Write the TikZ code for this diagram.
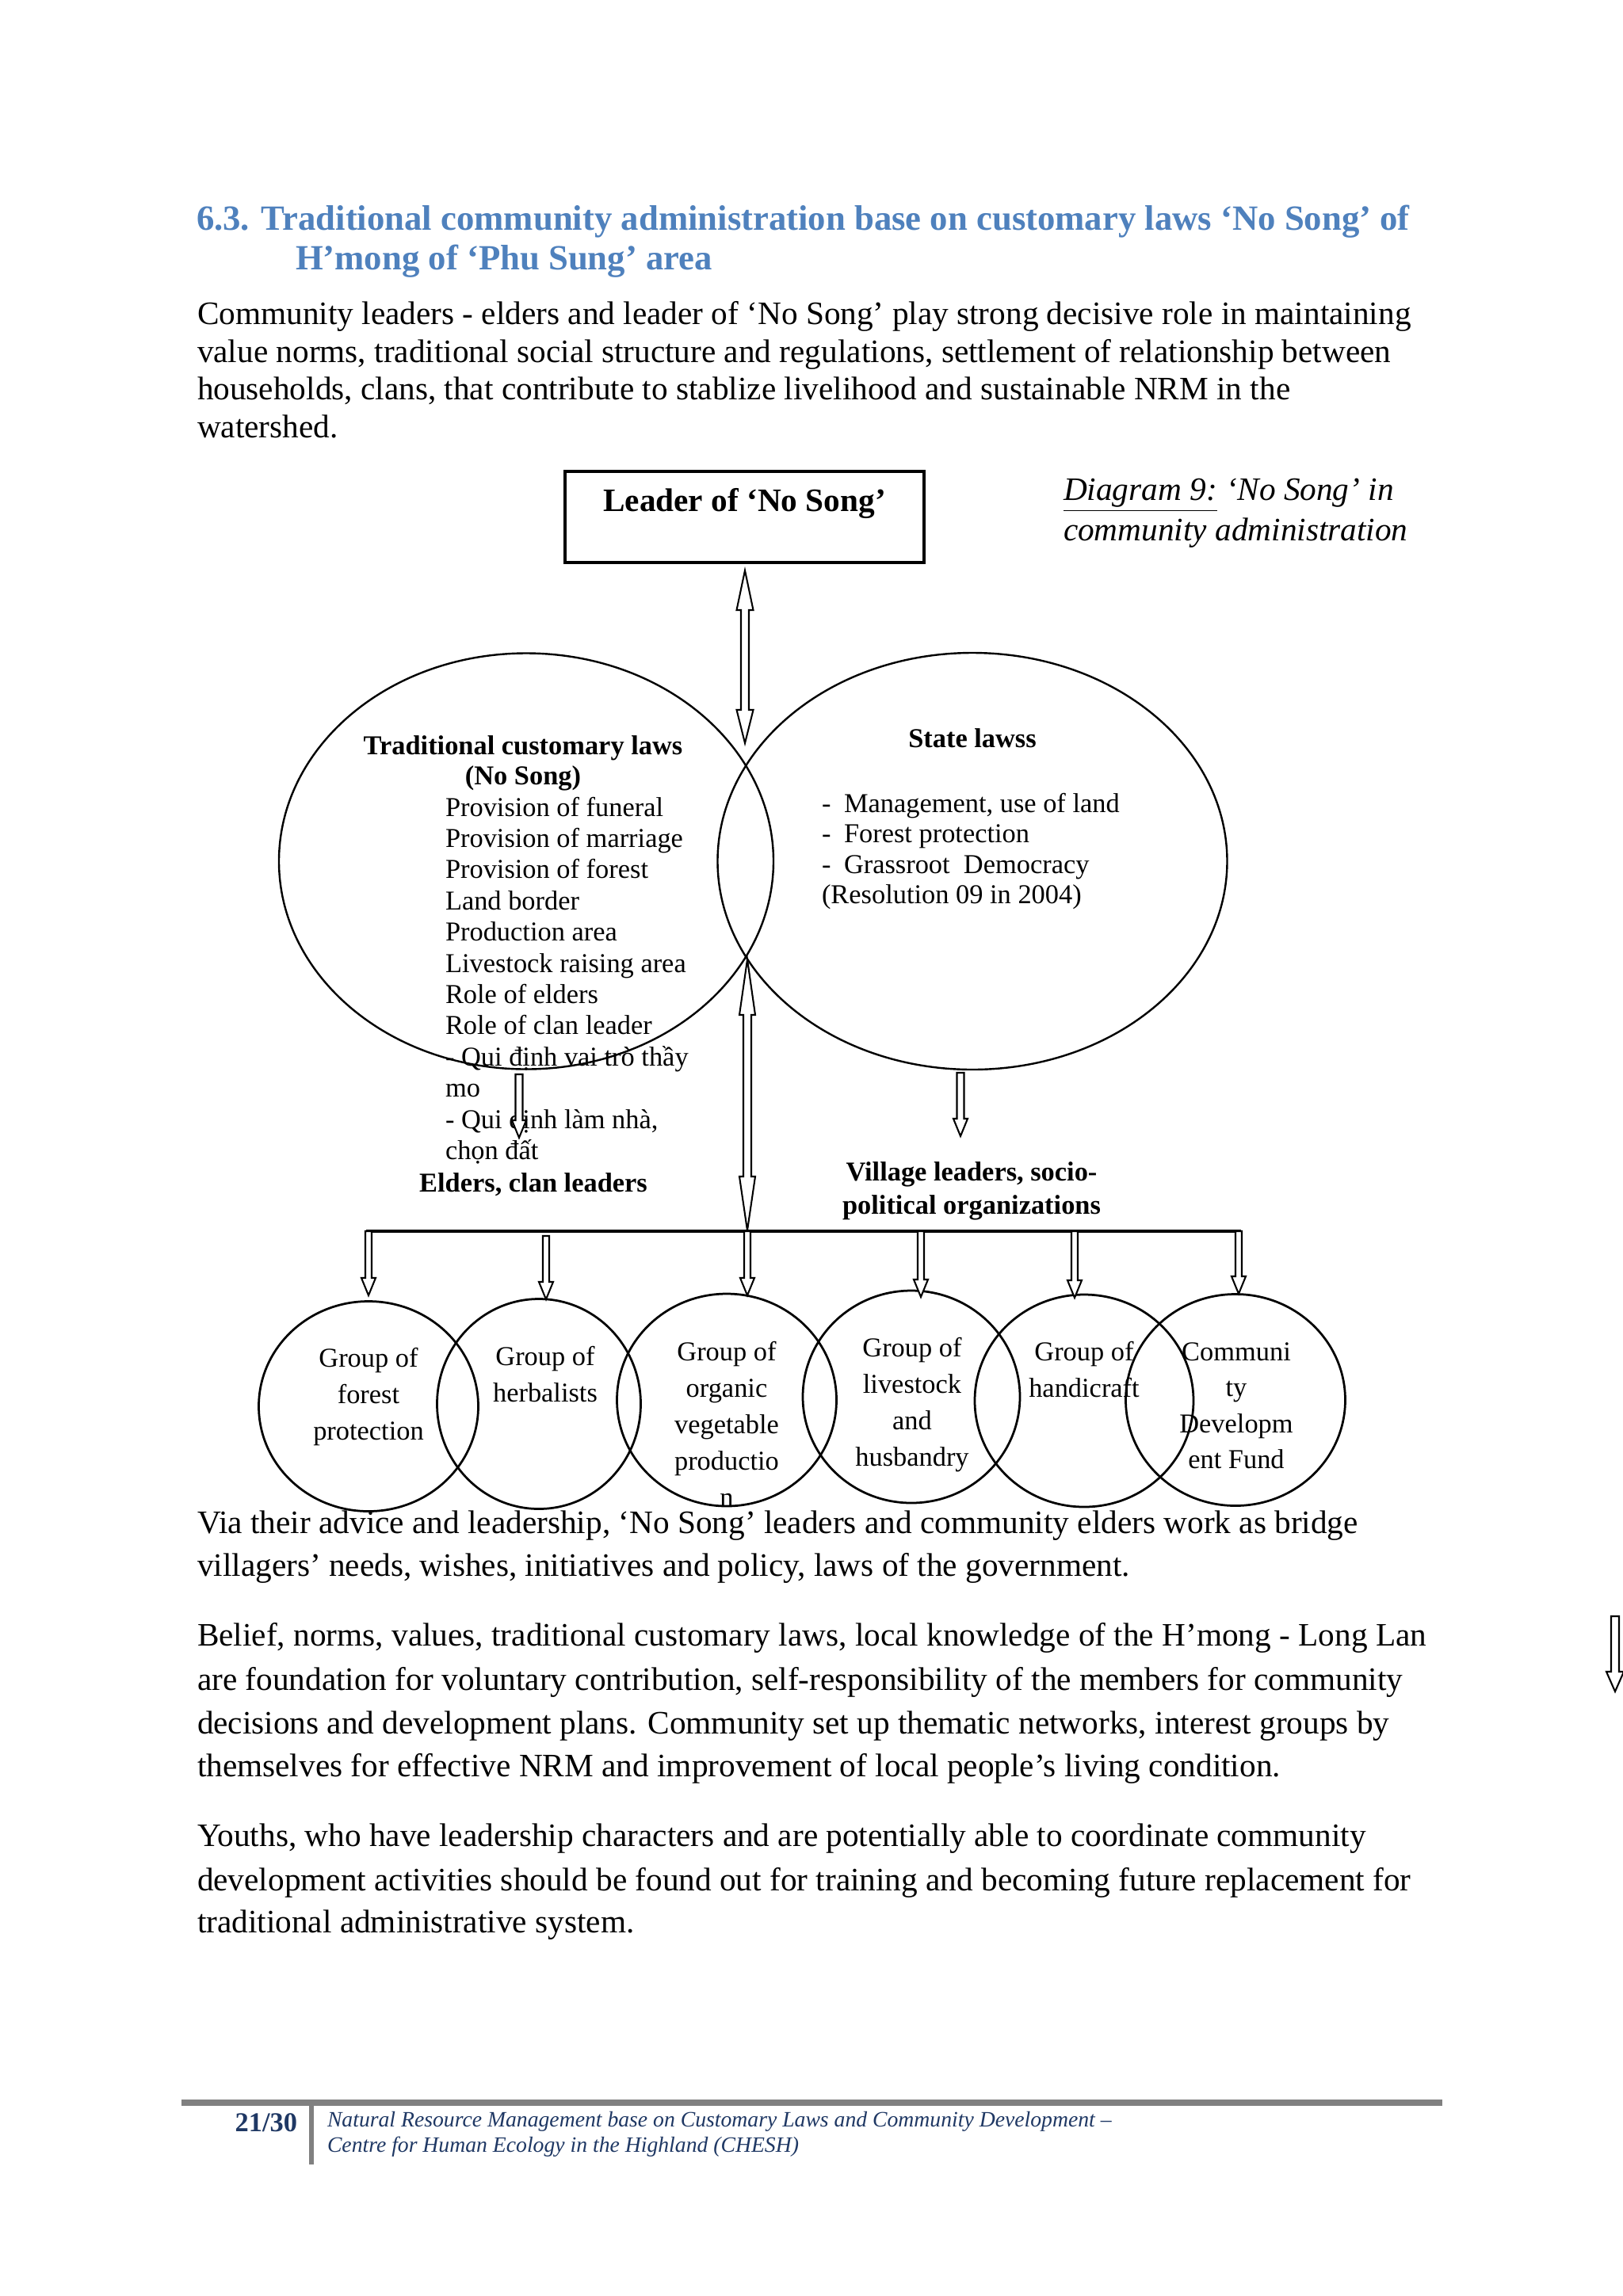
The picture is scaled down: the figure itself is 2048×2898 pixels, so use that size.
\documentclass[tikz,border=0pt]{standalone}
\usepackage{fontspec}
\setmainfont{Liberation Serif}
\usetikzlibrary{calc,shapes.geometric}
\definecolor{titleblue}{RGB}{79,129,189}
\definecolor{footblue}{RGB}{31,56,100}
\definecolor{footgray}{RGB}{128,128,128}
\newcommand\uu{0.2907pt}
% single-headed downward block arrow: top coord, tip coord, head length, shaft half width, head half width (px)
\newcommand\dnarrow[5]{%
 \draw[blockarrow] let \p1=(#1), \p2=(#2) in
  ({\x1-#4*\uu},\y1) -- ({\x1-#4*\uu},{\y2+#3*\uu}) -- ({\x1-#5*\uu},{\y2+#3*\uu}) -- (\x1,\y2)
  -- ({\x1+#5*\uu},{\y2+#3*\uu}) -- ({\x1+#4*\uu},{\y2+#3*\uu}) -- ({\x1+#4*\uu},\y1) -- cycle;}
% double-headed vertical block arrow: top tip, bottom tip, top head len, bottom head len, shaft half, head half
\newcommand\dblarrow[6]{%
 \draw[blockarrow] let \p1=(#1), \p2=(#2) in
  (\x1,\y1) -- ({\x1+#6*\uu},{\y1-#3*\uu}) -- ({\x1+#5*\uu},{\y1-#3*\uu}) -- ({\x1+#5*\uu},{\y2+#4*\uu})
  -- ({\x1+#6*\uu},{\y2+#4*\uu}) -- (\x1,\y2) -- ({\x1-#6*\uu},{\y2+#4*\uu}) -- ({\x1-#5*\uu},{\y2+#4*\uu})
  -- ({\x1-#5*\uu},{\y1-#3*\uu}) -- ({\x1-#6*\uu},{\y1-#3*\uu}) -- cycle;}
\begin{document}
\begin{tikzpicture}[x=0.2907pt,y=-0.2907pt,
  every node/.style={inner sep=0pt, outer sep=0pt},
  ln/.style={anchor=base west},
  cn/.style={anchor=base},
  rn/.style={anchor=base east},
  body/.style={font=\fontsize{12}{14}\selectfont},
  ttl/.style={font=\fontsize{13}{15}\selectfont\bfseries, text=titleblue},
  capt/.style={font=\fontsize{12}{14}\selectfont\itshape},
  bold12/.style={font=\fontsize{12}{14}\selectfont\bfseries},
  bold10/.style={font=\fontsize{10}{12}\selectfont\bfseries},
  f10/.style={font=\fontsize{10}{12}\selectfont},
  bigell/.style={draw, ellipse, line width=0.7pt},
  smallell/.style={draw, ellipse, line width=0.8pt},
  blockarrow/.style={draw, fill=white, line width=0.6pt, line join=miter},
  footnum/.style={font=\fontsize{10}{12}\selectfont\bfseries, text=footblue},
  foottxt/.style={font=\fontsize{8.05}{9}\selectfont\itshape, text=footblue}
]
\useasboundingbox[fill=white] (0,0) rectangle (2048,2898);

% ---- title ----
\node[ln, ttl] (t1) at (248,290) {6.3. Traditional community administration base on customary laws ‘No Song’ of};
\node[ln, ttl] (t2) at (373,340) {H’mong of ‘Phu Sung’ area};

% ---- paragraph 1 ----
\node[ln, body] (p1a) at (249,409) {Community leaders - elders and leader of ‘No Song’ play strong decisive role in maintaining};
\node[ln, body] (p1b) at (249,457) {value norms, traditional social structure and regulations, settlement of relationship between};
\node[ln, body] (p1c) at (249,504) {households, clans, that contribute to stablize livelihood and sustainable NRM in the};
\node[ln, body] (p1d) at (249,552) {watershed.};

% ---- leader box and caption ----
\node[draw, line width=1pt, minimum width=453*\uu, minimum height=115*\uu] (leader) at (939.5,652.5) {};
\node[cn, bold12] (leadertxt) at (939.5,645) {Leader of ‘No Song’};
\node[ln, capt] (cap1) at (1342,631) {\underline{Diagram 9:}\hspace{3.5pt}‘No Song’ in};
\node[ln, capt] (cap2) at (1342,682) {community administration};

% ---- two big ellipses ----
\node[bigell, minimum width=624*\uu, minimum height=525*\uu] (trad) at (664,1087) {};
\node[bigell, minimum width=643*\uu, minimum height=526*\uu] (state) at (1227,1087) {};

% left ellipse text
\node[cn, bold10] (tradh1) at (660,952) {Traditional customary laws};
\node[cn, bold10] (tradh2) at (660,990) {(No Song)};
\foreach \t [count=\i from 0] in {Provision of funeral, Provision of marriage, Provision of forest,
  Land border, Production area, Livestock raising area, Role of elders, Role of clan leader,
  - Qui định vai trò thầy, mo, {- Qui định làm nhà,}, chọn đất}
  \node[ln, f10, name=tl\i] at (562,{1030+39.4*\i}) {\t};
\node[cn, bold10] (elders) at (673,1504) {Elders, clan leaders};

% right ellipse text
\foreach \t [count=\i from 0] in {{Management, use of land}, Forest protection, Grassroot\ \ Democracy}
  {\node[ln, f10, name=sd\i] at (1037,{1025+38.5*\i}) {-};
   \node[ln, f10, name=sl\i] at (1065,{1025+38.5*\i}) {\t};}
\node[cn, bold10] (stateh) at (1227,943) {State lawss};
\node[ln, f10] (sres) at (1037,1140) {(Resolution 09 in 2004)};

\node[cn, bold10] (vill1) at (1226,1490) {Village leaders, socio-};
\node[cn, bold10] (vill2) at (1226,1532) {political organizations};

% ---- six group ellipses ----
\node[smallell, minimum width=277*\uu, minimum height=265*\uu] (g1) at (465,1775) {};
\node[smallell, minimum width=257*\uu, minimum height=265*\uu] (g2) at (680,1772) {};
\node[smallell, minimum width=277*\uu, minimum height=268*\uu] (g3) at (917,1767) {};
\node[smallell, minimum width=274*\uu, minimum height=268*\uu] (g4) at (1150,1763) {};
\node[smallell, minimum width=276*\uu, minimum height=268*\uu] (g5) at (1368,1768) {};
\node[smallell, minimum width=277*\uu, minimum height=267*\uu] (g6) at (1559,1767) {};

\foreach \t [count=\i from 0] in {Group of, forest, protection}
  \node[cn, f10, name=g1t\i] at (465,{1725+46*\i}) {\t};
\foreach \t [count=\i from 0] in {Group of, herbalists}
  \node[cn, f10, name=g2t\i] at (688,{1723+46*\i}) {\t};
\foreach \t [count=\i from 0] in {Group of, organic, vegetable, productio, n}
  \node[cn, f10, name=g3t\i] at (917,{1717+46*\i}) {\t};
\foreach \t [count=\i from 0] in {Group of, livestock, and, husbandry}
  \node[cn, f10, name=g4t\i] at (1151,{1712+46*\i}) {\t};
\foreach \t [count=\i from 0] in {Group of, handicraft}
  \node[cn, f10, name=g5t\i] at (1368,{1717+46*\i}) {\t};
\foreach \t [count=\i from 0] in {Communi, ty, Developm, ent Fund}
  \node[cn, f10, name=g6t\i] at (1560,{1717+45.5*\i}) {\t};

% ---- connectors ----
\coordinate (a1t) at (940,720);
\coordinate (a1b) at (940,938);
\dblarrow{a1t}{a1b}{50}{42}{5}{10.5}
\coordinate (a2t) at (943,1211);
\coordinate (a2b) at (943,1553);
\dblarrow{a2t}{a2b}{70}{68}{5}{10}
\coordinate (a3t) at (655,1356);
\coordinate (a3b) at (655,1436);
\dnarrow{a3t}{a3b}{22}{4.5}{9}
\coordinate (a4t) at (1212,1354);
\coordinate (a4b) at (1212,1434);
\dnarrow{a4t}{a4b}{22}{4.5}{9}

\coordinate (barL) at (462,1554);
\coordinate (barR) at (1566,1554);
\draw[line width=1pt] (barL) -- (barR);
\foreach \x/\ya/\yb [count=\i] in {465/1554/1635, 689/1560/1640, 943/1554/1635, 1162/1554/1637, 1356/1554/1638, 1563/1554/1633}
 {\coordinate (b\i t) at (\x,\ya);
  \coordinate (b\i b) at (\x,\yb);
  \dnarrow{b\i t}{b\i b}{22}{4}{9}}

% ---- paragraphs 2-4 ----
\node[ln, body] (p2a) at (249,1935) {Via their advice and leadership, ‘No Song’ leaders and community elders work as bridge};
\node[ln, body] (p2b) at (249,1989) {villagers’ needs, wishes, initiatives and policy, laws of the government.};
\node[ln, body] (p3a) at (249,2077) {Belief, norms, values, traditional customary laws, local knowledge of the H’mong - Long Lan};
\node[ln, body] (p3b) at (249,2133) {are foundation for voluntary contribution, self-responsibility of the members for community};
\node[ln, body] (p3c) at (249,2188) {decisions and development plans. Community set up thematic networks, interest groups by};
\node[ln, body] (p3d) at (249,2242) {themselves for effective NRM and improvement of local people’s living condition.};
\node[ln, body] (p4a) at (249,2330) {Youths, who have leadership characters and are potentially able to coordinate community};
\node[ln, body] (p4b) at (249,2386) {development activities should be found out for training and becoming future replacement for};
\node[ln, body] (p4c) at (249,2439) {traditional administrative system.};

% stray arrow at right edge
\coordinate (a5t) at (2038,2040);
\coordinate (a5b) at (2038,2135);
\dnarrow{a5t}{a5b}{25}{5}{11}

% ---- footer ----
\fill[footgray] (229,2650) rectangle (1820,2658);
\fill[footgray] (390,2658) rectangle (396,2732);
\node[rn, footnum] (pnum) at (375,2690) {21/30};
\node[ln, foottxt] (f1) at (413,2684) {Natural Resource Management base on Customary Laws and Community Development –};
\node[ln, foottxt] (f2) at (413,2716) {Centre for Human Ecology in the Highland (CHESH)};
\end{tikzpicture}
\end{document}
